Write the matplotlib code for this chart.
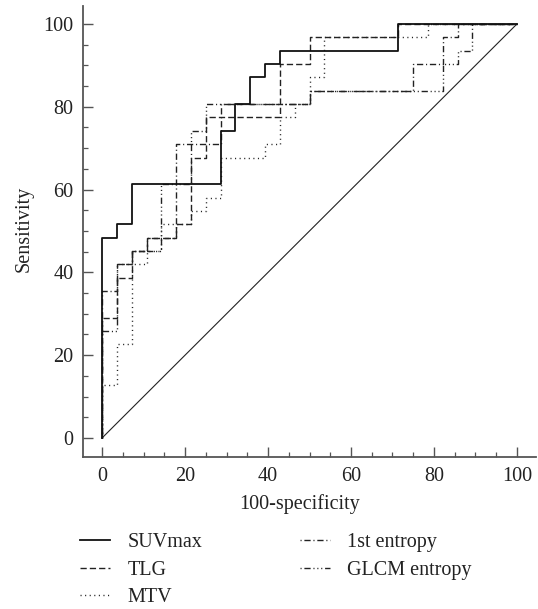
import matplotlib
matplotlib.use("Agg")
import matplotlib.pyplot as plt
from matplotlib.ticker import MultipleLocator

plt.rcParams['font.family'] = ['Liberation Serif', 'DejaVu Serif']

# ROC operating points (100-specificity, sensitivity)
suv_fpr = [0, 0, 3.57, 7.14, 28.57, 32.14, 35.71, 39.29, 42.86, 71.43, 100]
suv_tpr = [0, 48.39, 51.61, 61.29, 74.19, 80.65, 87.10, 90.32, 93.55, 100, 100]

tlg_fpr = [0, 0, 3.57, 7.14, 10.71, 17.86, 21.43, 25.0, 42.86, 50.0, 71.43, 100]
tlg_tpr = [0, 29.03, 38.71, 45.16, 48.39, 51.61, 67.74, 77.42, 90.32, 96.77, 100, 100]

mtv_fpr = [0, 0, 3.57, 7.14, 10.71, 14.29, 21.43, 25.0, 28.57, 39.29, 42.86,
           46.43, 50.0, 53.57, 78.57, 100]
mtv_tpr = [0, 12.90, 22.58, 41.94, 45.16, 51.61, 54.84, 58.06, 67.74, 70.97,
           77.42, 80.65, 87.10, 96.77, 100, 100]

ent_fpr = [0, 0, 3.57, 7.14, 10.71, 17.86, 28.57, 50.0, 75.0, 82.14, 85.71, 100]
ent_tpr = [0, 35.48, 41.94, 45.16, 48.39, 70.97, 80.65, 83.87, 90.32, 96.77, 100, 100]

glcm_fpr = [0, 0, 3.57, 7.14, 14.29, 21.43, 25.0, 50.0, 82.14, 85.71, 89.29, 100]
glcm_tpr = [0, 25.81, 41.94, 45.16, 61.29, 74.19, 80.65, 83.87, 90.32, 93.55, 100, 100]

labels = ['SUVmax', 'TLG', 'MTV', '1st entropy', 'GLCM entropy']

ink = '#222222'
W, H = 538, 609

fig = plt.figure(figsize=(W / 100, H / 100), dpi=100)
ax = fig.add_axes([83 / W, 152 / H, (536 - 83) / W, (603 - 152) / H])

# reference line
ax.plot([0, 100], [0, 100], color=ink, lw=0.8)

# draw lower curves first, SUVmax last on top
h_glcm, = ax.plot(glcm_fpr, glcm_tpr, drawstyle='steps-post', color=ink, lw=1.0,
                  ls=(0, (0.8, 2, 4.5, 2, 0.8, 2, 0.8, 2)))
h_ent, = ax.plot(ent_fpr, ent_tpr, drawstyle='steps-post', color=ink, lw=1.0,
                 ls=(0, (0.8, 2, 4.5, 2)))
h_mtv, = ax.plot(mtv_fpr, mtv_tpr, drawstyle='steps-post', color=ink, lw=1.0,
                 ls=(0, (0.8, 2.5)))
h_tlg, = ax.plot(tlg_fpr, tlg_tpr, drawstyle='steps-post', color=ink, lw=1.0,
                 ls=(0, (4.5, 2.2)))
h_suv, = ax.plot(suv_fpr, suv_tpr, drawstyle='steps-post', color='#111111', lw=1.3)

ax.set_xlim(-4.6, 104.6)
ax.set_ylim(-4.6, 104.35)

for s in ['top', 'right']:
    ax.spines[s].set_visible(False)
for s in ['left', 'bottom']:
    ax.spines[s].set_color('#555555')
    ax.spines[s].set_linewidth(1.3)

ax.xaxis.set_major_locator(MultipleLocator(20))
ax.yaxis.set_major_locator(MultipleLocator(20))
ax.xaxis.set_minor_locator(MultipleLocator(5))
ax.yaxis.set_minor_locator(MultipleLocator(5))
ax.tick_params(which='major', direction='in', length=7, width=1.0, color='#555555',
               labelcolor=ink, labelsize=14.5, pad=7)
ax.tick_params(which='minor', direction='in', length=3.5, width=0.9, color='#555555')

fig.text(300 / W, 1 - 504 / H, '100-specificity', ha='center', va='center',
         fontsize=14.5, color=ink)
fig.text(24 / W, 1 - 229 / H, 'Sensitivity', ha='center', va='center',
         rotation=90, fontsize=14.5, color=ink)

fig.legend([h_suv, h_tlg, h_mtv, h_ent, h_glcm], labels, loc='upper left',
           bbox_to_anchor=(80 / W, 1 - 533 / H), ncol=2, frameon=False,
           fontsize=14.5, handlelength=1.5, handletextpad=0.85, columnspacing=4.85,
           borderpad=0, borderaxespad=0, labelspacing=0.42, labelcolor=ink)

fig.savefig('out.png', dpi=100)
